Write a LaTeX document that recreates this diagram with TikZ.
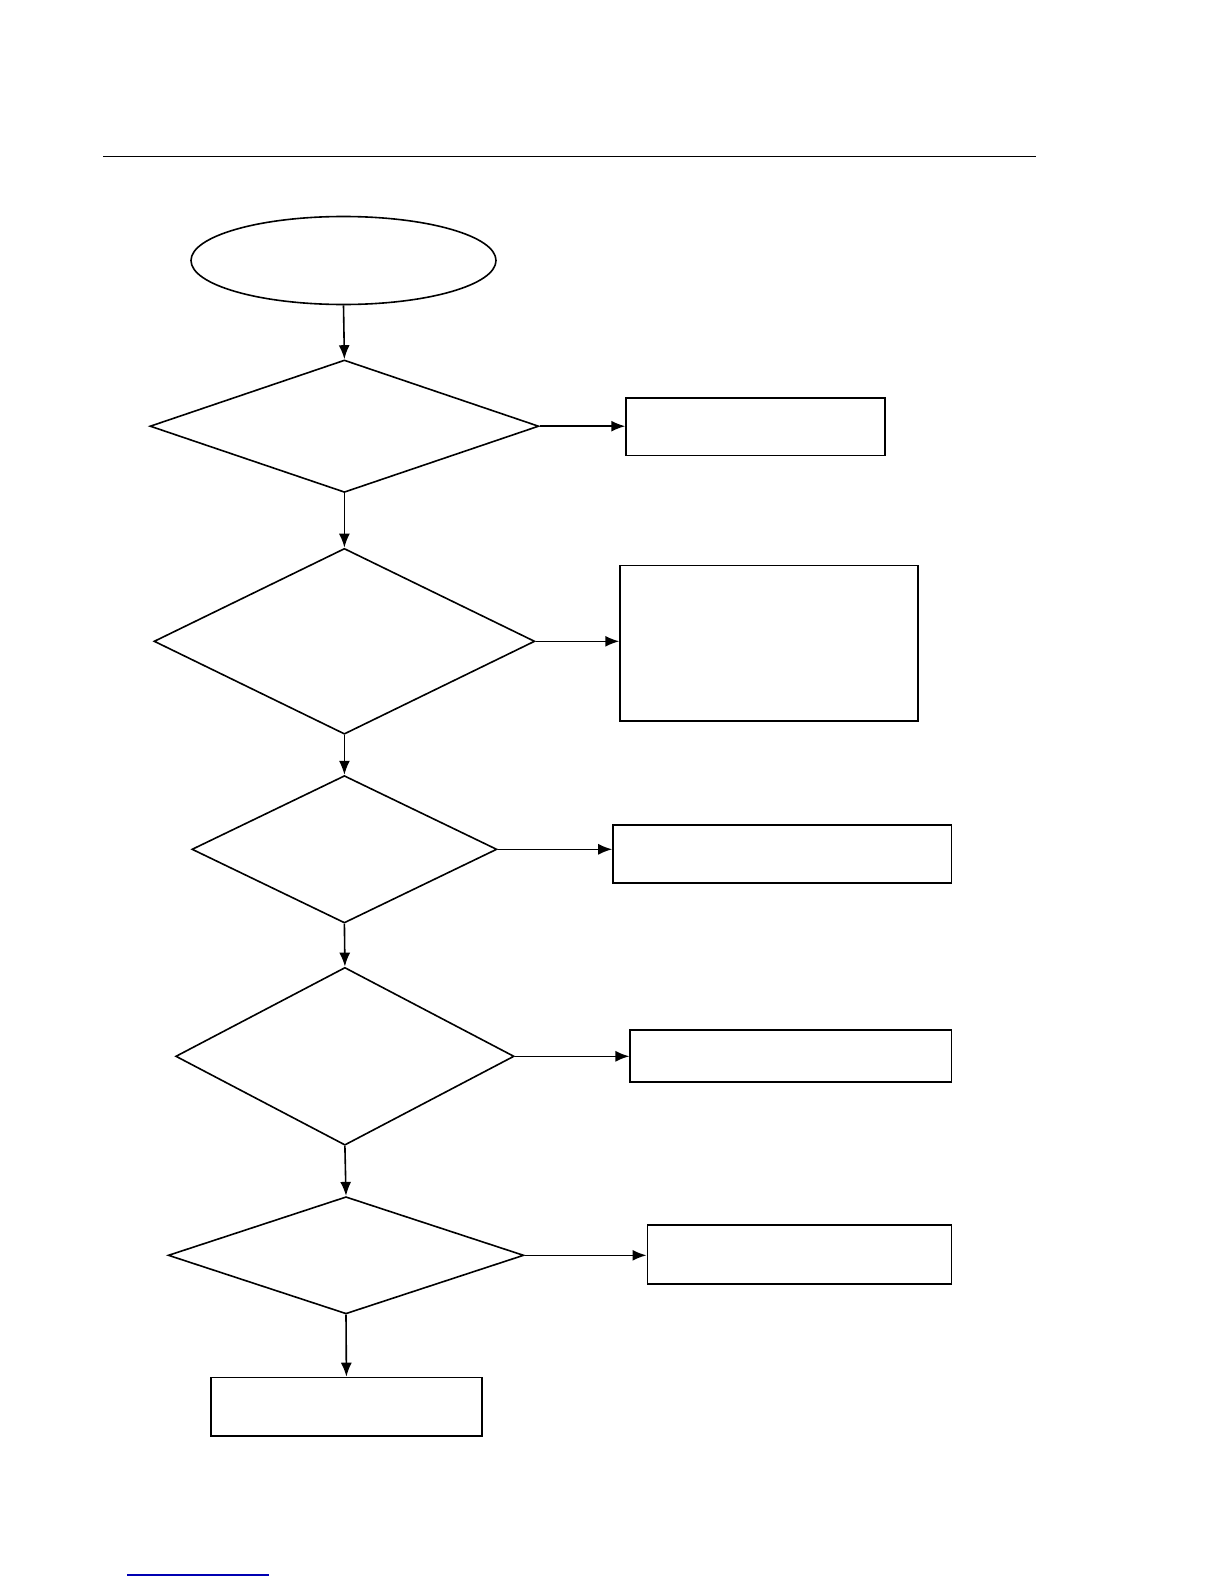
\documentclass[tikz,border=0pt]{standalone}
\usetikzlibrary{arrows.meta,shapes.geometric}

\begin{document}
\begin{tikzpicture}[x=0.5pt, y=-0.5pt, line width=0.8pt,
        start/.style={draw, ellipse, inner sep=0pt},
        decision/.style={draw, diamond, inner sep=0pt},
        action/.style={draw, rectangle, inner sep=0pt},
        flow/.style={-{Latex[length=7pt, width=5.5pt]}}]
        \useasboundingbox (0,0) rectangle (1224,1584);

        % horní linka
        \draw (103,156.5) coordinate (rl) -- (1036,156.5) coordinate (rr);

        % start
        \node[start, minimum width=152.5pt, minimum height=44pt] (start) at (343.5,260.5) {};

        % rozhodovací bloky
        \node[decision, minimum width=194.4pt, minimum height=66.2pt] (d1) at (344.4,426.2) {};
        \node[decision, minimum width=190.4pt, minimum height=92.9pt] (d2) at (344.4,641.3) {};
        \node[decision, minimum width=152.5pt, minimum height=73.7pt] (d3) at (344.4,849.3) {};
        \node[decision, minimum width=169.2pt, minimum height=88.9pt] (d4) at (344.9,1056.3) {};
        \node[decision, minimum width=177.8pt, minimum height=58.6pt] (d5) at (346,1255.3) {};

        % akce
        \node[action, minimum width=129.3pt, minimum height=28.8pt] (a1) at (755.4,426.7) {};
        \node[action, minimum width=149pt, minimum height=77.8pt] (a2) at (769.1,643.3) {};
        \node[action, minimum width=169.2pt, minimum height=28.8pt] (a3) at (782.2,853.9) {};
        \node[action, minimum width=160.6pt, minimum height=25.8pt] (a4) at (790.8,1055.9) {};
        \node[action, minimum width=152pt, minimum height=29.4pt] (a5) at (799.3,1254.3) {};
        \node[action, minimum width=135.3pt, minimum height=29.3pt] (a6) at (346.4,1406.8) {};

        % šipky dolů
        \draw[flow] (start.south) -- (d1.north);
        \draw[flow] (d1.south) -- (d2.north);
        \draw[flow] (d2.south) -- (d3.north);
        \draw[flow] (d3.south) -- (d4.north);
        \draw[flow] (d4.south) -- (d5.north);
        \draw[flow] (d5.south) -- (a6.north);

        % šipky doprava
        \draw[flow] (d1.east) -- (d1.east -| a1.west);
        \draw[flow] (d2.east) -- (d2.east -| a2.west);
        \draw[flow] (d3.east) -- (d3.east -| a3.west);
        \draw[flow] (d4.east) -- (d4.east -| a4.west);
        \draw[flow] (d5.east) -- (d5.east -| a5.west);

        % odkaz dole
        \draw[blue!70!black] (127,1575) coordinate (ll) -- (269,1575) coordinate (lr);
    \end{tikzpicture}
\end{document}
